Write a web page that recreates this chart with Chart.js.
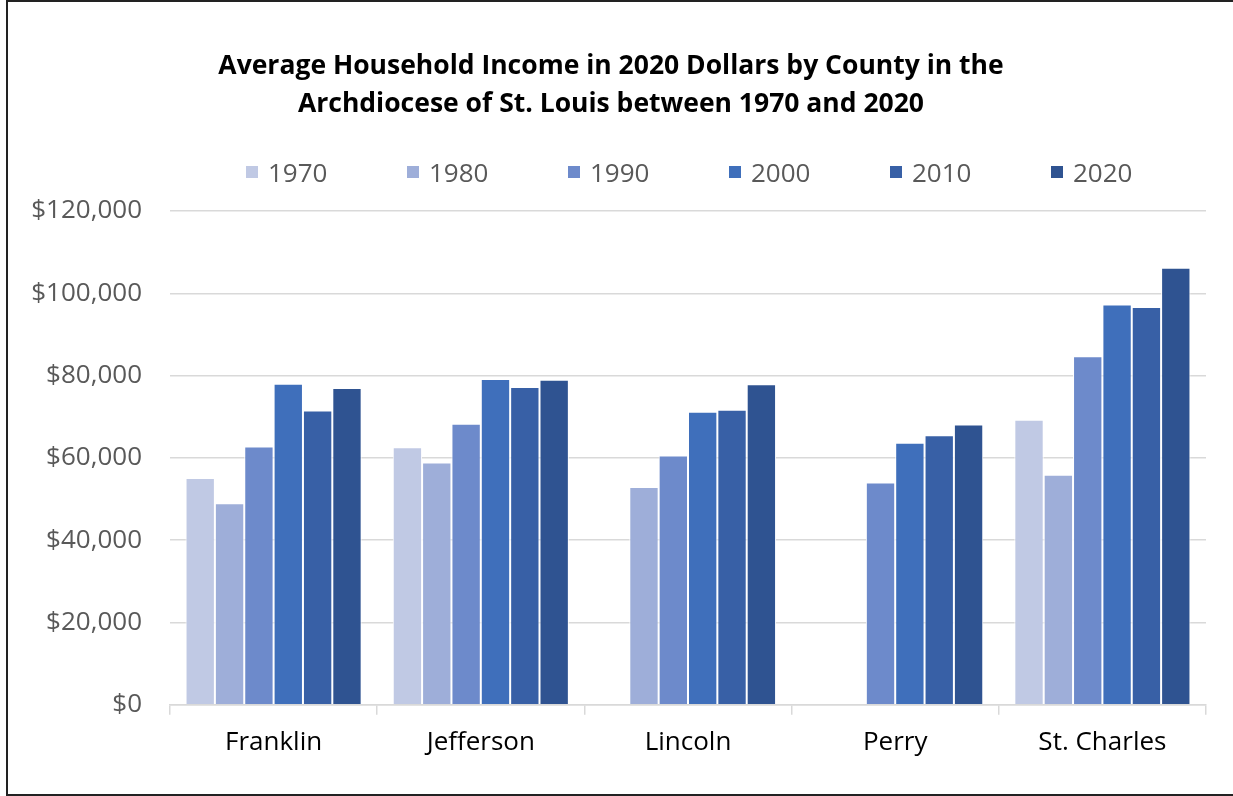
<!DOCTYPE html>
<html>
<head>
<meta charset="utf-8">
<script src="https://cdn.jsdelivr.net/npm/chart.js@4/dist/chart.umd.min.js"></script>
<style>
  body { margin: 0; background: #fff; }
  #frame {
    position: absolute; left: 6px; top: 0; width: 1240px; height: 796px;
    border: 2px solid #222; box-sizing: border-box; pointer-events: none;
  }
  #wrap { position: absolute; left: 0; top: 0; width: 1233px; height: 796px; }
  #legend {
    position: absolute; top: 158px; left: 246px; display: flex;
    font-family: "Open Sans", sans-serif; font-size: 26px; color: #595959;
  }
  #legend .item { width: 161px; display: flex; align-items: center; height: 28px; }
  #legend .box { width: 12px; height: 12px; margin-right: 10px; }
</style>
</head>
<body>
<div id="wrap"><canvas id="myChart" width="1233" height="796"></canvas></div>
<div id="legend"></div>
<div id="frame"></div>
<script>
// counties on the x axis
var counties = ["Franklin", "Jefferson", "Lincoln", "Perry", "St. Charles"];

// average household income (2020 dollars)
var y1970 = [55100, 62600, null, null, 69300];
var y1980 = [49000, 58900, 52900, null, 55900];
var y1990 = [62800, 68300, 60600, 54000, 84700];
var y2000 = [78000, 79200, 71200, 63700, 97300];
var y2010 = [71500, 77200, 71700, 65500, 96700];
var y2020 = [77000, 79000, 77900, 68100, 106200];

var years = ["1970", "1980", "1990", "2000", "2010", "2020"];
var colors = ["#c0c9e4", "#9eaed9", "#6d8acb", "#3f6fbb", "#3860a6", "#2f5391"];
var series = [y1970, y1980, y1990, y2000, y2010, y2020];

var datasets = series.map(function (values, i) {
  return {
    label: years[i],
    data: values,
    backgroundColor: colors[i],
    borderColor: "#ffffff",
    borderWidth: 1,
    categoryPercentage: 0.85,
    barPercentage: 1.0,
  };
});

// html legend, built from the datasets
var legendEl = document.getElementById("legend");
datasets.forEach(function (ds) {
  var item = document.createElement("div");
  item.className = "item";
  item.innerHTML = '<span class="box" style="background:' + ds.backgroundColor + '"></span>' + ds.label;
  legendEl.appendChild(item);
});

var ctx = document.getElementById("myChart").getContext("2d");
var chart = new Chart(ctx, {
  type: "bar",
  data: {
    labels: counties,
    datasets: datasets,
  },
  options: {
    responsive: false,
    animation: false,
    layout: {
      padding: { left: 16, right: 27, top: 0, bottom: 26 },
    },
    plugins: {
      legend: { display: false },
      tooltip: { enabled: false },
      title: {
        display: true,
        text: [
          "Average Household Income in 2020 Dollars by County in the",
          "Archdiocese of St. Louis between 1970 and 2020",
        ],
        color: "#000",
        font: { family: "Open Sans", size: 26.5, weight: "bold", lineHeight: 1.434 },
        padding: { top: 47, bottom: 88 },
      },
    },
    scales: {
      x: {
        border: { color: "#d9d9d9", width: 1.5 },
        grid: {
          offset: true,
          drawOnChartArea: false,
          color: "#d9d9d9",
          lineWidth: 1.5,
          tickLength: 10,
        },
        ticks: {
          color: "#000",
          padding: 12,
          font: { family: "Open Sans", size: 26 },
        },
      },
      y: {
        min: 0,
        max: 120000,
        border: { display: false },
        grid: { color: "#d9d9d9", lineWidth: 1.5, drawTicks: false },
        ticks: {
          stepSize: 20000,
          color: "#595959",
          padding: 28,
          font: { family: "Open Sans", size: 26 },
          callback: function (v) {
            return "$" + v.toLocaleString("en-US");
          },
        },
        afterFit: function (scale) {
          scale.width = 154;
        },
      },
    },
  },
});
</script>
</body>
</html>
